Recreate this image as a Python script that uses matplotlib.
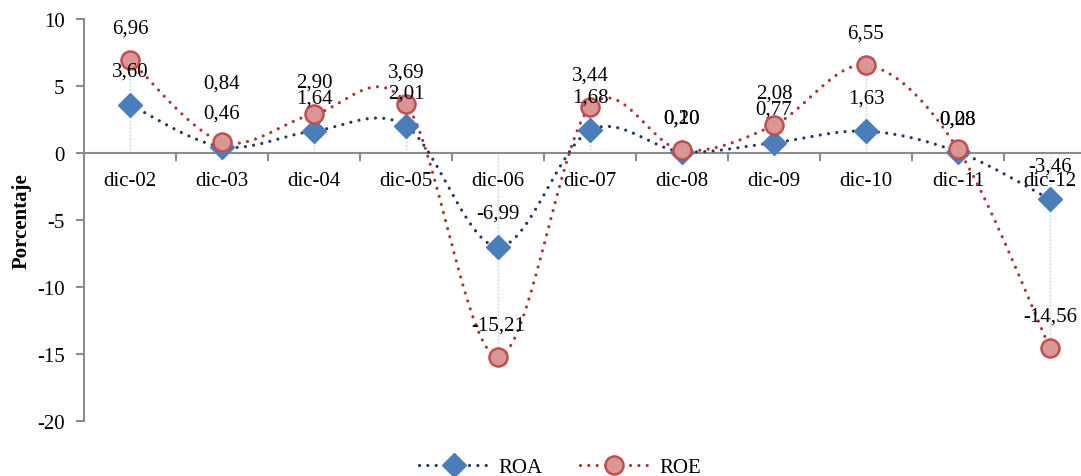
import numpy as np
import matplotlib
matplotlib.use("Agg")
import matplotlib.pyplot as plt
from matplotlib.lines import Line2D

plt.rcParams['font.family'] = ['Liberation Serif', 'DejaVu Serif']
plt.rcParams['axes.unicode_minus'] = False

periods = ["dic-02", "dic-03", "dic-04", "dic-05", "dic-06", "dic-07",
           "dic-08", "dic-09", "dic-10", "dic-11", "dic-12"]
roa = [3.60, 0.46, 1.64, 2.01, -6.99, 1.68, 0.10, 0.77, 1.63, 0.08, -3.46]
roe = [6.96, 0.84, 2.90, 3.69, -15.21, 3.44, 0.20, 2.08, 6.55, 0.28, -14.56]
y_ticks = [10, 5, 0, -5, -10, -15, -20]
y_label = "Porcentaje"

ROA_LINE = "#1f3864"
ROA_FILL = "#4a7ebb"
ROE_LINE = "#ab3531"
ROE_FILL = "#d99694"
ROE_EDGE = "#c0504d"
GRID_GRAY = "#8c8c8c"
DROP_BLUE = "#a9d4e6"
FS = 15


def smooth(xs, ys, n=40):
    """Cubic Bezier smoothing through every point (Catmull-Rom tangents)."""
    xs = np.asarray(xs, float)
    ys = np.asarray(ys, float)
    pts = np.column_stack([xs, ys])
    out = []
    m = len(pts)
    for i in range(m - 1):
        p0 = pts[max(i - 1, 0)]
        p1 = pts[i]
        p2 = pts[i + 1]
        p3 = pts[min(i + 2, m - 1)]
        c1 = p1 + (p2 - p0) / 6.0
        c2 = p2 - (p3 - p1) / 6.0
        t = np.linspace(0, 1, n)[:, None]
        seg = ((1 - t) ** 3) * p1 + 3 * ((1 - t) ** 2) * t * c1 \
            + 3 * (1 - t) * t ** 2 * c2 + t ** 3 * p2
        out.append(seg if i == 0 else seg[1:])
    seg = np.vstack(out)
    return seg[:, 0], seg[:, 1]


fig = plt.figure(figsize=(10.81, 4.77), dpi=100)
ax = fig.add_axes([84 / 1081, 55 / 477, 1012 / 1081, 402 / 477])

x = np.arange(len(periods))
ax.set_xlim(-0.5, len(periods) - 0.5)
ax.set_ylim(-20, 10)

# drop lines from the zero line to each point
for xi, a, e in zip(x, roa, roe):
    lo, hi = min(0, a, e), max(0, a, e)
    ax.plot([xi, xi], [lo, hi], color=DROP_BLUE, lw=1.0,
            linestyle=(0, (1, 1.5)), zorder=1)

dots = (0, (0.01, 2.6))
sx, sy = smooth(x, roa)
ax.plot(sx, sy, color=ROA_LINE, lw=2.3, linestyle=dots,
        dash_capstyle='round', zorder=3)
sx, sy = smooth(x, roe)
ax.plot(sx, sy, color=ROE_LINE, lw=2.3, linestyle=dots,
        dash_capstyle='round', zorder=3)

ax.plot(x, roa, linestyle='none', marker='D', markersize=12.5,
        markerfacecolor=ROA_FILL, markeredgecolor=ROA_FILL, zorder=4)
ax.plot(x, roe, linestyle='none', marker='o', markersize=13,
        markerfacecolor=ROE_FILL, markeredgecolor=ROE_EDGE,
        markeredgewidth=1.8, zorder=5)


def fmt(v):
    return f"{v:.2f}".replace('.', ',')


roe_offsets = [23] * len(periods)
roe_offsets[1] = 42
roe_offsets[9] = 22
for xi, v in zip(x, roa):
    ax.annotate(fmt(v), (xi, v), xytext=(0, 24), textcoords='offset points',
                ha='center', va='center', fontsize=FS, zorder=6)
for xi, v, off in zip(x, roe, roe_offsets):
    ax.annotate(fmt(v), (xi, v), xytext=(0, off), textcoords='offset points',
                ha='center', va='center', fontsize=FS, zorder=6)

# axes styling
for side in ('top', 'right'):
    ax.spines[side].set_visible(False)
ax.spines['bottom'].set_position(('data', 0))
ax.spines['bottom'].set_color(GRID_GRAY)
ax.spines['bottom'].set_linewidth(1.5)
ax.spines['left'].set_color(GRID_GRAY)
ax.spines['left'].set_linewidth(1.5)

ax.set_yticks(y_ticks)
ax.set_yticklabels([str(t) for t in y_ticks])
ax.tick_params(axis='y', direction='out', length=6, width=1.5,
               color=GRID_GRAY, labelsize=FS, pad=8)

ax.set_xticks(x[:-1] + 0.5)
ax.set_xticklabels([])
ax.set_xticks(x, minor=True)
ax.set_xticklabels(periods, minor=True)
ax.tick_params(axis='x', which='major', direction='out', length=6,
               width=1.5, color=GRID_GRAY)
ax.tick_params(axis='x', which='minor', length=0, labelsize=FS, pad=13)

ax.set_ylabel(y_label, fontsize=FS, fontweight='bold')
ax.yaxis.set_label_coords(-52 / 1012, 0.5)

handles = [
    Line2D([], [], color=ROA_LINE, lw=2.3, linestyle=dots,
           dash_capstyle='round', marker='D', markersize=12.5,
           markerfacecolor=ROA_FILL, markeredgecolor=ROA_FILL),
    Line2D([], [], color=ROE_LINE, lw=2.3, linestyle=dots,
           dash_capstyle='round', marker='o', markersize=13,
           markerfacecolor=ROE_FILL, markeredgecolor=ROE_EDGE,
           markeredgewidth=1.8),
]
fig.legend(handles, ["ROA", "ROE"], loc='center',
           bbox_to_anchor=(560 / 1081, 9 / 477), ncol=2, frameon=False,
           fontsize=FS, handlelength=3.3, columnspacing=1.8,
           handletextpad=0.5)

fig.savefig("out.png", dpi=100)
